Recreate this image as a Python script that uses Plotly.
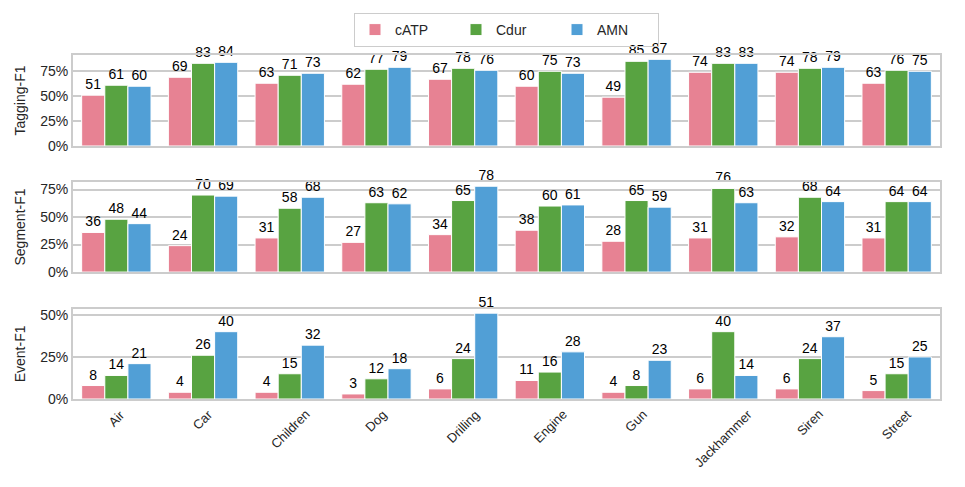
import plotly.graph_objects as go
from plotly.subplots import make_subplots

categories = ["Air", "Car", "Children", "Dog", "Drilling", "Engine", "Gun",
              "Jackhammer", "Siren", "Street"]
models = ["cATP", "Cdur", "AMN"]
colors = ["#e78293", "#58a341", "#519fd6"]

tagging = {
    "cATP": [51, 69, 63, 62, 67, 60, 49, 74, 74, 63],
    "Cdur": [61, 83, 71, 77, 78, 75, 85, 83, 78, 76],
    "AMN":  [60, 84, 73, 79, 76, 73, 87, 83, 79, 75],
}
segment = {
    "cATP": [36, 24, 31, 27, 34, 38, 28, 31, 32, 31],
    "Cdur": [48, 70, 58, 63, 65, 60, 65, 76, 68, 64],
    "AMN":  [44, 69, 68, 62, 78, 61, 59, 63, 64, 64],
}
event = {
    "cATP": [8, 4, 4, 3, 6, 11, 4, 6, 6, 5],
    "Cdur": [14, 26, 15, 12, 24, 16, 8, 40, 24, 15],
    "AMN":  [21, 40, 32, 18, 51, 28, 23, 14, 37, 25],
}
panels = [("Tagging-F1", tagging, [0, 25, 50, 75]),
          ("Segment-F1", segment, [0, 25, 50, 75]),
          ("Event-F1", event, [0, 25, 50])]

FONT = "Liberation Sans, Arial, sans-serif"
GRID = "#cccccc"
PAGE = 8  # default body margin of the html page

fig = make_subplots(rows=3, cols=1, shared_xaxes=False)

for r, (title, data, ticks) in enumerate(panels, start=1):
    for m, c in zip(models, colors):
        fig.add_trace(go.Bar(
            x=categories, y=data[m], name=m,
            marker=dict(color=c, line=dict(color="white", width=1)),
            text=[str(v) for v in data[m]], textposition="outside",
            textfont=dict(size=14, color="black", family=FONT),
            cliponaxis=False, showlegend=(r == 1),
        ), row=r, col=1)
    top = max(max(v) for v in data.values()) * 1.05
    fig.update_yaxes(range=[0, top], tickmode="array", tickvals=ticks,
                     ticktext=[f"{t}%" for t in ticks],
                     tickfont=dict(size=14, color="#262626"),
                     title=dict(text=title, font=dict(size=14, color="#262626"), standoff=11),
                     showgrid=True, gridcolor=GRID, gridwidth=1.5,
                     showline=True, linecolor=GRID, linewidth=2, mirror=True,
                     zeroline=False, ticks="", automargin=False, row=r, col=1)
    fig.update_xaxes(showline=True, linecolor=GRID, linewidth=2, mirror=True,
                     showgrid=False, showticklabels=False, ticks="", automargin=False,
                     range=[-0.5, len(categories) - 0.5], row=r, col=1)

fig.update_layout(
    yaxis=dict(domain=[0.7355, 1.0]),
    yaxis2=dict(domain=[0.369, 0.631]),
    yaxis3=dict(domain=[0.0, 0.262]),
)

for cat in categories:
    fig.add_annotation(x=cat, y=0, xref="x3", yref="y3", text=cat,
                       textangle=-45, showarrow=False, xanchor="center",
                       yanchor="top", yshift=-5,
                       font=dict(size=13, color="#262626", family=FONT))

fig.update_layout(
    width=965, height=487,
    margin=dict(l=73 - PAGE, r=25 + PAGE, t=55 - PAGE, b=88 + PAGE, autoexpand=False),
    plot_bgcolor="white", paper_bgcolor="white",
    font=dict(family=FONT, size=13, color="#262626"),
    barmode="group", bargap=0.2, bargroupgap=0,
    legend=dict(orientation="h", x=0.5, xanchor="center",
                y=1 - (13 - PAGE) / 487, yanchor="top", yref="container",
                bgcolor="rgba(255,255,255,0)",
                bordercolor=GRID, borderwidth=1, font=dict(size=14, color="#262626"),
                entrywidth=56, traceorder="normal", tracegroupgap=0),
)

fig.write_html("out.html")
